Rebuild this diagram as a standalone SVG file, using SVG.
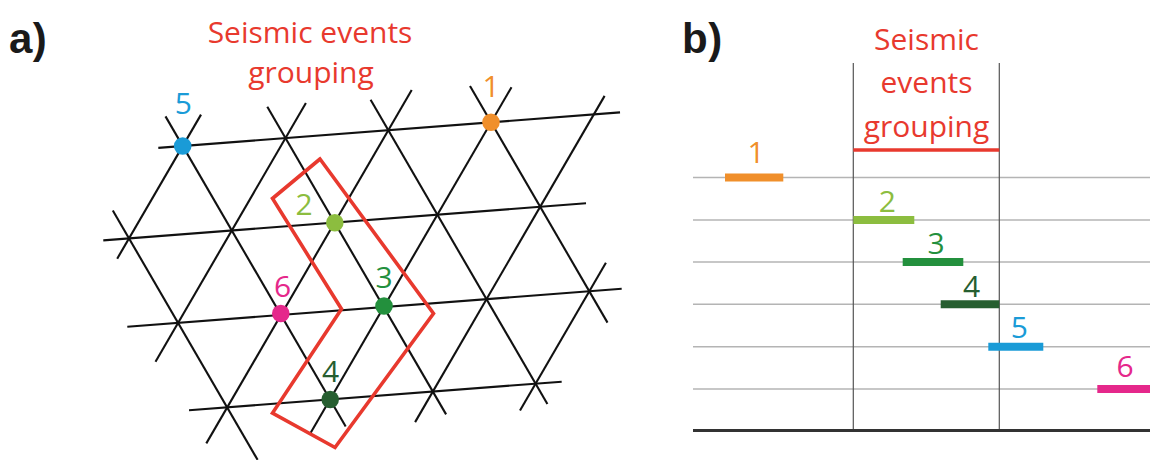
<svg xmlns="http://www.w3.org/2000/svg" width="1150" height="460" viewBox="0 0 1150 460">
<style>
.grid line{stroke:#111;stroke-width:2.1;stroke-linecap:butt}
.t{font-family:"Open Sans","Liberation Sans",sans-serif;font-size:30px;text-anchor:middle}
.red{fill:#e8392e}
.panel{font-family:"Liberation Sans","Open Sans",sans-serif;font-weight:bold;font-size:42px;letter-spacing:0.5px;fill:#1a1a1a}
.hl{stroke:#b4b4b4;stroke-width:1.6}
.vl{stroke:#555;stroke-width:1.2}
.bar{stroke-width:8;stroke-linecap:butt}
</style>
<rect width="1150" height="460" fill="#fff"/>
<text class="panel" x="9" y="53">a)</text>
<text class="panel" x="682" y="53">b)</text>
<g id="title-a" class="t red">
<text x="310" y="43">Seismic events</text>
<text x="311" y="83">grouping</text>
</g>
<g id="grid" class="grid">
<line x1="158.3" y1="147.9" x2="620" y2="112.4"/>
<line x1="103.3" y1="240.4" x2="586" y2="203.3"/>
<line x1="127.3" y1="326.8" x2="621.7" y2="288.8"/>
<line x1="189" y1="410.3" x2="561.7" y2="381.7"/>
<line x1="112.8" y1="210.5" x2="257.6" y2="459.8"/>
<line x1="165.5" y1="116.4" x2="345.7" y2="426.5"/>
<line x1="267.3" y1="106.8" x2="446.1" y2="414.4"/>
<line x1="370.6" y1="99.8" x2="547.4" y2="404"/>
<line x1="470" y1="86" x2="607.5" y2="322.6"/>
<line x1="201" y1="114.6" x2="117.2" y2="258.7"/>
<line x1="305.9" y1="103" x2="155.5" y2="361.7"/>
<line x1="411.7" y1="90" x2="206.3" y2="443.4"/>
<line x1="511.5" y1="87.2" x2="310.1" y2="433.7"/>
<line x1="604.6" y1="95.9" x2="415.1" y2="422.1"/>
<line x1="605.9" y1="262.7" x2="520" y2="410.5"/>
</g>
<g id="grouping-outline">
<polygon points="320,159 272.5,198.5 341.5,309 272.5,413 335,447.5 433.5,313.5" fill="none" stroke="#e8392e" stroke-width="3.6" stroke-linejoin="miter"/>
</g>
<g id="event-5"><circle cx="182.7" cy="146" r="8.8" fill="#1a9bd7"/><text class="t" x="183.3" y="114" fill="#1a9bd7">5</text></g>
<g id="event-1"><circle cx="491" cy="122.3" r="8.8" fill="#f08f2b"/><text class="t" x="491" y="97" fill="#f08f2b">1</text></g>
<g id="event-2"><circle cx="334.8" cy="222.8" r="8.8" fill="#8cbd3f"/><text class="t" x="304" y="215" fill="#8cbd3f">2</text></g>
<g id="event-3"><circle cx="384" cy="306" r="8.8" fill="#23903d"/><text class="t" x="384" y="288" fill="#23903d">3</text></g>
<g id="event-6"><circle cx="280.8" cy="313.5" r="8.8" fill="#e5288b"/><text class="t" x="282.5" y="296.5" fill="#e5288b">6</text></g>
<g id="event-4"><circle cx="330.2" cy="399.5" r="8.8" fill="#265e30"/><text class="t" x="330.5" y="381.5" fill="#265e30">4</text></g>
<g id="timeline">
<line class="hl" x1="693" y1="177.5" x2="1150" y2="177.5"/>
<line class="hl" x1="693" y1="220" x2="1150" y2="220"/>
<line class="hl" x1="693" y1="262" x2="1150" y2="262"/>
<line class="hl" x1="693" y1="304.3" x2="1150" y2="304.3"/>
<line class="hl" x1="693" y1="346.7" x2="1150" y2="346.7"/>
<line class="hl" x1="693" y1="389" x2="1150" y2="389"/>
<line class="vl" x1="853.3" y1="63" x2="853.3" y2="430"/>
<line class="vl" x1="999.3" y1="63" x2="999.3" y2="430"/>
<line x1="693" y1="430.5" x2="1150" y2="430.5" stroke="#333" stroke-width="3"/>
<line x1="853.3" y1="150" x2="999.3" y2="150" stroke="#e8392e" stroke-width="3.6"/>
</g>
<g id="title-b" class="t red">
<text x="926.5" y="50">Seismic</text>
<text x="926.5" y="93">events</text>
<text x="926.5" y="137">grouping</text>
</g>
<g id="bar-1"><line class="bar" x1="725" y1="177.5" x2="783.3" y2="177.5" stroke="#f08f2b"/><text class="t" x="756" y="162.7" fill="#f08f2b">1</text></g>
<g id="bar-2"><line class="bar" x1="853.3" y1="220" x2="914.3" y2="220" stroke="#8cbd3f"/><text class="t" x="887.3" y="211.7" fill="#8cbd3f">2</text></g>
<g id="bar-3"><line class="bar" x1="902.7" y1="262" x2="963.3" y2="262" stroke="#23903d"/><text class="t" x="936" y="254" fill="#23903d">3</text></g>
<g id="bar-4"><line class="bar" x1="940.7" y1="304.3" x2="999.3" y2="304.3" stroke="#265e30"/><text class="t" x="971.7" y="296.7" fill="#265e30">4</text></g>
<g id="bar-5"><line class="bar" x1="988.3" y1="346.7" x2="1043.3" y2="346.7" stroke="#1a9bd7"/><text class="t" x="1019.3" y="338.3" fill="#1a9bd7">5</text></g>
<g id="bar-6"><line class="bar" x1="1097.3" y1="389" x2="1150" y2="389" stroke="#e5288b"/><text class="t" x="1125" y="376.7" fill="#e5288b">6</text></g>
</svg>
